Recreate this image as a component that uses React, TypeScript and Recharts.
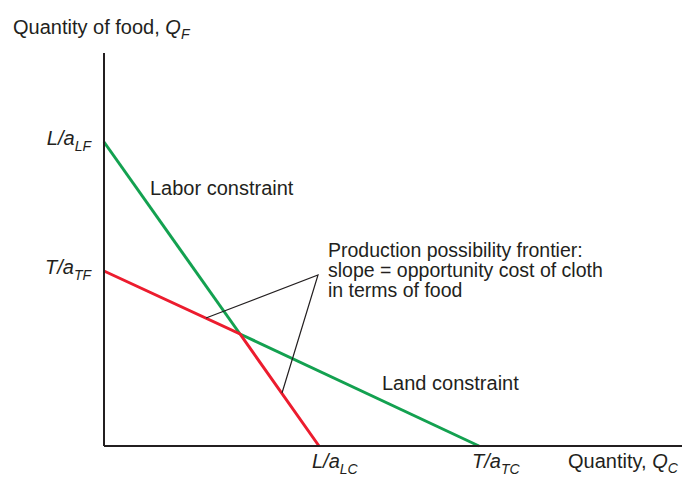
import React from "react";
import {
  LineChart,
  Line,
  XAxis,
  YAxis,
  Customized,
} from "recharts";

// Two-factor production possibility frontier (labor + land constraints).
// Units are arbitrary.

const xMax = 578;
const yMax = 393;

// axis intercepts
const xTicks = [215, 375]; // L/aLC, T/aTC
const xTickMain = ["L/a", "T/a"];
const xTickSub = ["LC", "TC"];
const yTicks = [304, 175]; // L/aLF, T/aTF
const yTickMain = ["L/a", "T/a"];
const yTickSub = ["LF", "TF"];

// green constraint segments (the parts not on the frontier)
const laborX = [0, 136];
const laborY = [304, 112];
const landX = [136, 375];
const landY = [112, 0];

// red frontier: land constraint, then labor constraint after the kink
const ppfX = [0, 136, 215];
const ppfY = [175, 112, 0];

// black pointer lines from the annotation down to both frontier segments
const pointerX = [102, 214, 178];
const pointerY = [128, 171, 53];

const zip = (xs: number[], ys: number[]) => xs.map((x, i) => ({ x, y: ys[i] }));

const FONT = "'Liberation Sans', Arial, Helvetica, sans-serif";
const INK = "#231f20";
const GREEN = "#13a150";
const RED = "#ec1c2e";

function XTick(props: any) {
  const { x, y, payload } = props;
  const i = xTicks.indexOf(payload.value);
  if (i < 0) return null;
  return (
    <text x={x - 7} y={y + 14} fontFamily={FONT} fontSize={20} fill={INK} fontStyle="italic">
      <tspan>{xTickMain[i]}</tspan>
      <tspan dy={6} fontSize={14}>{xTickSub[i]}</tspan>
    </text>
  );
}

function YTick(props: any) {
  const { x, y, payload } = props;
  const i = yTicks.indexOf(payload.value);
  if (i < 0) return null;
  return (
    <text x={x - 5} y={y + 3} fontFamily={FONT} fontSize={20} fill={INK} fontStyle="italic" textAnchor="end">
      <tspan>{yTickMain[i]}</tspan>
      <tspan dy={6} fontSize={14}>{yTickSub[i]}</tspan>
    </text>
  );
}

function Annotations() {
  const t = { fontFamily: FONT, fontSize: 20, fill: INK };
  const n = { ...t, fontSize: 19.5 };
  return (
    <g>
      <text x={13} y={34} {...t}>
        <tspan>Quantity of food, </tspan>
        <tspan fontStyle="italic">Q</tspan>
        <tspan dy={5} fontSize={14} fontStyle="italic">F</tspan>
      </text>
      <text x={568} y={468} {...t}>
        <tspan>Quantity, </tspan>
        <tspan fontStyle="italic">Q</tspan>
        <tspan dy={5} fontSize={14} fontStyle="italic">C</tspan>
      </text>
      <text x={150} y={195} {...t}>Labor constraint</text>
      <text x={382} y={390} {...t}>Land constraint</text>
      <text x={328} y={257} {...n}>Production possibility frontier:</text>
      <text x={328} y={277} {...n}>slope = opportunity cost of cloth</text>
      <text x={328} y={297} {...n}>in terms of food</text>
    </g>
  );
}

export default function App() {
  return (
    <div style={{ position: "absolute", left: 0, top: 0, width: 684, height: 489, background: "#fff" }}>
      <LineChart width={684} height={489} margin={{ top: 53, right: 2, bottom: 13, left: 44 }}>
        <XAxis
          type="number"
          dataKey="x"
          domain={[0, xMax]}
          ticks={xTicks}
          height={30}
          axisLine={{ stroke: INK, strokeWidth: 2 }}
          tickLine={false}
          tick={<XTick />}
        />
        <YAxis
          type="number"
          dataKey="y"
          domain={[0, yMax]}
          ticks={yTicks}
          width={60}
          axisLine={{ stroke: INK, strokeWidth: 2 }}
          tickLine={false}
          tick={<YTick />}
        />
        <Line data={zip(laborX, laborY)} dataKey="y" stroke={GREEN} strokeWidth={3} dot={false} activeDot={false} isAnimationActive={false} />
        <Line data={zip(landX, landY)} dataKey="y" stroke={GREEN} strokeWidth={3} dot={false} activeDot={false} isAnimationActive={false} />
        <Line data={zip(ppfX, ppfY)} dataKey="y" stroke={RED} strokeWidth={3} dot={false} activeDot={false} isAnimationActive={false} />
        <Line data={zip(pointerX, pointerY)} dataKey="y" stroke={INK} strokeWidth={1.2} dot={false} activeDot={false} isAnimationActive={false} />
        <Customized component={Annotations} />
      </LineChart>
    </div>
  );
}
